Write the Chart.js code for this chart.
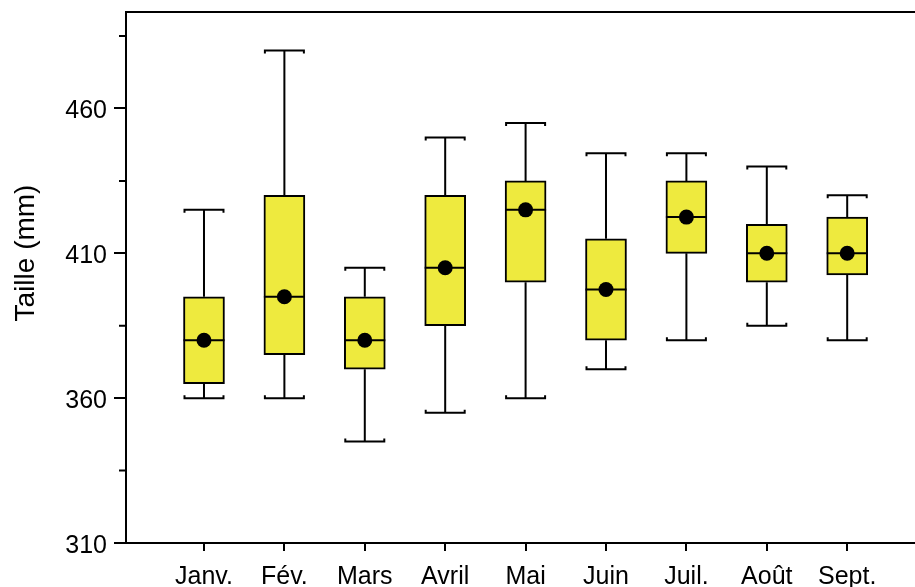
<!DOCTYPE html>
<html>
<head>
<meta charset="utf-8">
<script src="https://cdn.jsdelivr.net/npm/chart.js@4.4.0/dist/chart.umd.min.js"></script>
<style>
  html, body { margin: 0; padding: 0; background: #fff; overflow: hidden; }
  #wrap { width: 915px; height: 587px; }
</style>
</head>
<body>
<div id="wrap"><canvas id="box" width="915" height="587"></canvas></div>
<script>
// valeurs
var months = ['Janv.', 'Fév.', 'Mars', 'Avril', 'Mai', 'Juin', 'Juil.', 'Août', 'Sept.'];
var lowWhisker  = [360, 360, 345, 355, 360, 370, 380, 385, 380];
var q1          = [365, 375, 370, 385, 400, 380, 410, 400, 402.5];
var median      = [380, 395, 380, 405, 425, 397.5, 422.5, 410, 410];
var q3          = [395, 430, 395, 430, 435, 415, 435, 420, 422.5];
var highWhisker = [425, 480, 405, 450, 455, 444.5, 444.5, 440, 430];
var means       = [380, 395, 380, 405, 425, 397.5, 422.5, 410, 410];

var yMajor = [310, 360, 410, 460];
var yMinor = [335, 385, 435, 485];
var yTitle = 'Taille (mm)';

var FONT = '"Liberation Sans", Arial, Helvetica, sans-serif';
var BOX_W = 41;

var boxPlugin = {
    id: 'boxExtras',
    afterDatasetDraw: function (chart, args) {
        if (args.index !== 1) return;
        var ctx = chart.ctx;
        var xs = chart.scales.x, ys = chart.scales.y;
        ctx.save();
        ctx.strokeStyle = '#000';
        ctx.lineWidth = 2;
        for (var i = 0; i < months.length; i++) {
            var cx = xs.getPixelForValue(i + 1);
            var l = cx - BOX_W / 2, r = cx + BOX_W / 2;
            var yHi = ys.getPixelForValue(highWhisker[i]);
            var yQ3 = ys.getPixelForValue(q3[i]);
            var yQ1 = ys.getPixelForValue(q1[i]);
            var yLo = ys.getPixelForValue(lowWhisker[i]);
            var yMed = ys.getPixelForValue(median[i]);
            ctx.beginPath();
            // moustache haute
            ctx.moveTo(cx, yQ3); ctx.lineTo(cx, yHi);
            ctx.moveTo(l + 1, yHi + 3); ctx.lineTo(l + 1, yHi);
            ctx.lineTo(r - 1, yHi); ctx.lineTo(r - 1, yHi + 3);
            // moustache basse
            ctx.moveTo(cx, yQ1); ctx.lineTo(cx, yLo);
            ctx.moveTo(l + 1, yLo - 3); ctx.lineTo(l + 1, yLo);
            ctx.lineTo(r - 1, yLo); ctx.lineTo(r - 1, yLo - 3);
            // mediane
            ctx.moveTo(l, yMed); ctx.lineTo(r, yMed);
            ctx.stroke();
        }
        ctx.restore();
    },
    afterDraw: function (chart) {
        var ctx = chart.ctx, a = chart.chartArea, ys = chart.scales.y;
        ctx.save();
        ctx.strokeStyle = '#000';
        ctx.lineWidth = 2;
        ctx.beginPath();
        // cadre haut et bas jusqu'au bord
        ctx.moveTo(a.left, a.top); ctx.lineTo(chart.width, a.top);
        ctx.moveTo(a.left - 1, a.bottom); ctx.lineTo(chart.width, a.bottom);
        yMinor.forEach(function (v) {
            var y = ys.getPixelForValue(v);
            ctx.moveTo(a.left - 7, y); ctx.lineTo(a.left, y);
        });
        ctx.stroke();
        ctx.fillStyle = '#000';
        ctx.font = '28px ' + FONT;
        ctx.translate(34, 253);
        ctx.rotate(-Math.PI / 2);
        ctx.textAlign = 'center';
        ctx.textBaseline = 'alphabetic';
        ctx.fillText(yTitle, 0, 0);
        ctx.restore();
    }
};

var ctx = document.getElementById('box').getContext('2d');
var myChart = new Chart(ctx, {
    type: 'bar',
    data: {
        datasets: [{
            type: 'scatter',
            label: 'Moyenne',
            data: months.map(function (m, i) { return { x: i + 1, y: means[i] }; }),
            pointRadius: 7.5,
            pointBackgroundColor: '#000',
            pointBorderWidth: 0,
            order: 0
        }, {
            type: 'bar',
            label: 'Boîte',
            data: months.map(function (m, i) { return { x: i + 1, y: [q1[i], q3[i]] }; }),
            backgroundColor: 'rgb(238, 234, 62)',
            borderColor: '#000',
            borderWidth: 2,
            borderSkipped: false,
            barThickness: BOX_W,
            order: 1
        }]
    },
    options: {
        responsive: false,
        animation: false,
        layout: { padding: { top: 12, left: 0, right: 0, bottom: 0 } },
        plugins: { legend: { display: false }, tooltip: { enabled: false } },
        scales: {
            x: {
                type: 'linear',
                offset: false,
                min: 0.03,
                max: 9.75,
                afterBuildTicks: function (s) {
                    s.ticks = months.map(function (m, i) { return { value: i + 1 }; });
                },
                afterFit: function (s) {
                    s.height = 44;
                    s.paddingLeft = 0;
                    s.paddingRight = 0;
                },
                grid: {
                    offset: false,
                    drawOnChartArea: false,
                    tickLength: 8,
                    lineWidth: 2,
                    color: function (c) {
                        return c.tick && c.tick.value >= 1 && c.tick.value <= months.length ? '#000' : 'rgba(0,0,0,0)';
                    }
                },
                border: { display: false },
                ticks: {
                    autoSkip: false,
                    maxRotation: 0,
                    padding: 11,
                    color: '#000',
                    font: { family: FONT, size: 25 },
                    callback: function (v) { return months[v - 1]; }
                }
            },
            y: {
                min: 310,
                max: 493.3,
                afterBuildTicks: function (s) {
                    s.ticks = yMajor.concat(yMinor).sort(function (a, b) { return a - b; })
                        .map(function (v) { return { value: v }; });
                },
                afterFit: function (s) {
                    s.width = 126;
                    s.paddingTop = 0;
                    s.paddingBottom = 0;
                },
                grid: {
                    drawOnChartArea: false,
                    tickLength: 12,
                    lineWidth: 2,
                    color: function (c) {
                        return c.tick && yMajor.indexOf(c.tick.value) >= 0 ? '#000' : 'rgba(0,0,0,0)';
                    }
                },
                border: { display: true, color: '#000', width: 2 },
                ticks: {
                    padding: 7,
                    labelOffset: 3,
                    color: '#000',
                    font: { family: FONT, size: 25 },
                    callback: function (v) { return yMajor.indexOf(v) >= 0 ? String(v) : ''; }
                }
            }
        }
    },
    plugins: [boxPlugin]
});
</script>
</body>
</html>
